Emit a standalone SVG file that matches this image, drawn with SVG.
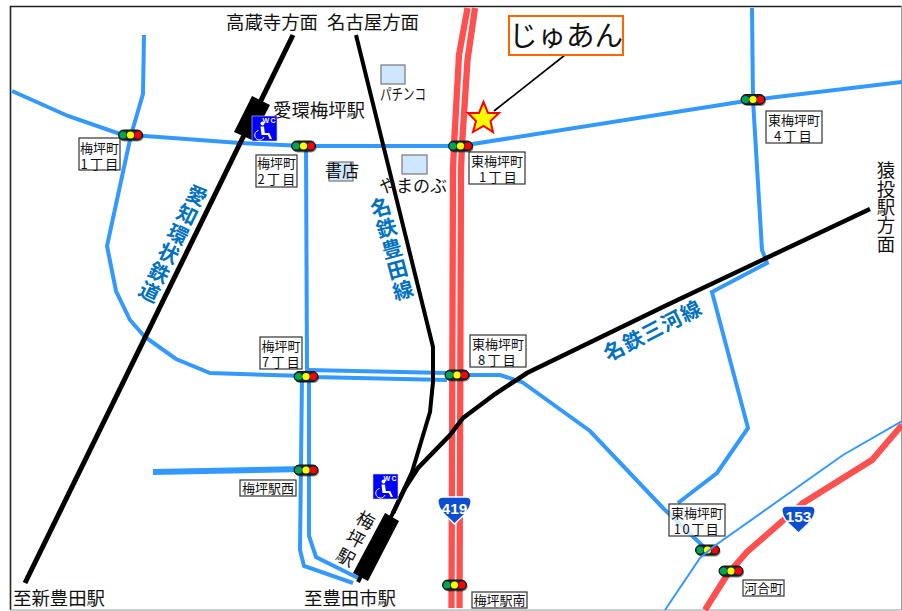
<svg xmlns="http://www.w3.org/2000/svg" xmlns:xlink="http://www.w3.org/1999/xlink" width="902" height="611" viewBox="0 0 902 611">
<style>
text{font-family:"Noto Sans CJK JP","Noto Sans",sans-serif;fill:#111}
.road,.thin,.red,.rail,.lead{fill:none;stroke-linejoin:miter}
.road{stroke:#3399ff;stroke-width:4}
.thin{stroke:#3399ff;stroke-width:2}
.red{stroke:#ff5050;stroke-width:6.300px}
.rail{stroke:#000;stroke-width:4.500px}
.lead{stroke:#000;stroke-width:1.6}
.box{fill:#fff;stroke:#333;stroke-width:1.2}
.lab{font-size:13px;text-anchor:middle}
.wide{letter-spacing:2.200px}
.big{font-size:18.400px}
.blue{font-size:20.500px;font-weight:700;fill:#0070c0;text-anchor:middle;letter-spacing:1px}
.vert{writing-mode:vertical-rl}
.sq{fill:#cfe6ff;stroke:#777;stroke-width:1.2}
.wc{fill:#0000ff;stroke:#cde;stroke-width:.6}
.wct{font-family:"Liberation Sans",sans-serif;font-size:7px;font-weight:700;fill:#fff;letter-spacing:1.500px}
.shield{fill:#0b4fd0;stroke:#fff;stroke-width:1.5}
.snum{font-family:"Liberation Sans",sans-serif;font-size:15.500px;font-weight:700;fill:#fff;text-anchor:middle}
.sb{fill:#1a2a3a;stroke:#111;stroke-width:1}
.g{fill:#00a550}.y{fill:#ffff00}.r{fill:#ff0000}
</style>
<defs>
<g id="sig">
<rect x="-11" y="-3.500" width="24" height="10" rx="5" fill="#000" opacity=".45"/>
<rect x="-12" y="-5" width="24" height="10" rx="5" class="sb"/>
<circle cx="-7.500" r="3.600" class="g"/><circle r="3.600" class="y"/><circle cx="7.500" r="3.600" class="r"/>
</g>
<g id="wcicon">
<rect width="25" height="25" class="wc"/>
<text x="10.500" y="7" class="wct">WC</text>
<circle cx="10.500" cy="7.500" r="2" fill="#fff"/>
<path d="M8.500 10.500h3.500l.8 6.500h4.500l2.700 6h-2.300l-1.900-4h-6.300z" fill="#fff"/>
<path d="M6.500 14.500a4.800 4.800 0 1 0 5.500 6.500" fill="none" stroke="#fff" stroke-width="1"/>
</g>
</defs>
<rect width="902" height="611" fill="#fff"/>
<path d="M10.500 610V6.500H901.500" fill="none" stroke="#222" stroke-width="1.600"/>
<path d="M10 610H901.500V6.500" fill="none" stroke="#999" stroke-width="1"/>

<g id="connectors">
<path class="road" d="M12 91L68 116L120 134L145 136L240 143L305 146L460 146L752 100L902 82"/>
<path class="road" d="M144 35L143 94L131 135L107 246L116 291L130 320L145 337L176 359L210 373L305 376L313 377L447 380"/>
<path class="road" d="M308 370L447 373"/>
<path class="road" d="M463 375H500L522 382L590 431L663 508L705 548"/>
<path class="road" d="M306 146L307 372"/>
<path class="road" d="M302 377L300 550L304 566L353 583"/>
<path class="road" d="M309 377V536L316 557L358 578"/>
<path class="road" style="stroke-width:6" d="M153 472L305 469"/>
<path class="road" d="M752 8L753 100L762 250L767 263L712 292L748 428L717 473L678 503"/>
<path class="red" d="M902 425L872 460L803 503L747 552L727 575L705 610"/>
<path class="red" d="M467.500 8L459 55L454 145L453 170L451.500 608"/>
<path class="red" d="M475 8L467.500 60L462 145L461 170L459.500 608"/>
<path class="rail" style="stroke-width:5" d="M293 35L25 583"/>
<path class="rail" style="stroke-width:4" d="M356 35L433 347V382L430 412L412 472L393 513L358 582"/>
<path class="rail" d="M870 209L667 305L527 373L495 394L463 418L450 435L418 468L405 488L393 513"/>
<path class="lead" d="M565 55L494 111"/>
</g>

<g id="aikan-station"><path d="M252 96L270 105L252 140L234 132Z"/><text x="273" y="117" class="big">愛環梅坪駅</text></g>
<g id="umetsubo-station"><path d="M385 513L399 521L368 581L353 573Z"/><text class="vert" style="font-size:18px;text-anchor:middle;letter-spacing:3px" transform="translate(355,540) rotate(28)">梅坪駅</text></g>
<g id="wc1"><use xlink:href="#wcicon" href="#wcicon" x="252" y="116"/></g>
<g id="wc2"><use xlink:href="#wcicon" href="#wcicon" x="373" y="474"/></g>

<g id="pachinko"><rect x="381" y="65" width="24" height="19" class="sq"/><text x="380" y="100" font-size="16" textLength="46" lengthAdjust="spacingAndGlyphs">パチンコ</text></g>
<g id="yamanobu"><rect x="402" y="155" width="25" height="19" class="sq"/><text x="379" y="192" font-size="17">やまのぶ</text></g>
<g id="shoten"><rect x="329" y="162" width="24" height="19" class="sq"/><text x="325" y="177" font-size="17">書店</text></g>

<g id="juan"><rect x="509" y="16" width="114" height="39" fill="#fff" stroke="#ff6600" stroke-width="2"/><text x="509" y="46" font-size="28.500">じゅあん</text></g>
<g id="star"><path d="M483.500 102L488 113H499L490.500 121L493 132L483.500 126L473 132L476 121L468 113H479Z" fill="#ffff00" stroke="#ff0000" stroke-width="2"/></g>

<g id="dir-takakura"><text x="226" y="29" class="big">高蔵寺方面</text></g>
<g id="dir-nagoya"><text x="327" y="29" class="big">名古屋方面</text></g>
<g id="dir-shintoyota"><text x="13" y="605" class="big">至新豊田駅</text></g>
<g id="dir-toyotashi"><text x="304" y="605" class="big">至豊田市駅</text></g>
<g id="dir-sanage"><text class="big vert" x="886" y="161">猿投駅方面</text></g>

<g id="line-aichi"><text class="blue vert" transform="translate(173,244) rotate(26)">愛知環状鉄道</text></g>
<g id="line-toyota"><text class="blue vert" transform="translate(392,249) rotate(-15)">名鉄豊田線</text></g>
<g id="line-mikawa"><text class="blue" x="0" y="7" transform="translate(653,331) rotate(-27)">名鉄三河線</text></g>

<g id="s-ume1"><rect x="79" y="138" width="41" height="32" class="box"/><text class="lab" y="153"><tspan x="99.500">梅坪町</tspan><tspan x="100.500" dy="16" class="wide">1丁目</tspan></text><use xlink:href="#sig" href="#sig" x="130.500" y="135"/></g>
<g id="s-ume2"><rect x="256" y="155" width="41" height="32" class="box"/><text class="lab" y="168"><tspan x="276.500">梅坪町</tspan><tspan x="277.500" dy="16" class="wide">2丁目</tspan></text><use xlink:href="#sig" href="#sig" x="303.500" y="146"/></g>
<g id="s-hig1"><rect x="469" y="152" width="56" height="32" class="box"/><text class="lab" y="166"><tspan x="497">東梅坪町</tspan><tspan x="499" dy="16" class="wide">1丁目</tspan></text><use xlink:href="#sig" href="#sig" x="460.500" y="146"/></g>
<g id="s-hig4"><rect x="766" y="111" width="56" height="32" class="box"/><text class="lab" y="125"><tspan x="794">東梅坪町</tspan><tspan x="794" dy="16" class="wide">4丁目</tspan></text><use xlink:href="#sig" href="#sig" x="753" y="99.500"/></g>
<g id="s-ume7"><rect x="260" y="337" width="42" height="32" class="box"/><text class="lab" y="351"><tspan x="281">梅坪町</tspan><tspan x="282" dy="16" class="wide">7丁目</tspan></text><use xlink:href="#sig" href="#sig" x="306" y="376.500"/></g>
<g id="s-hig8"><rect x="470" y="335" width="56" height="32" class="box"/><text class="lab" y="349"><tspan x="498">東梅坪町</tspan><tspan x="498" dy="16" class="wide">8丁目</tspan></text><use xlink:href="#sig" href="#sig" x="457" y="375"/></g>
<g id="s-nishi"><rect x="240" y="480" width="56" height="16" class="box"/><text class="lab" x="268" y="493">梅坪駅西</text><use xlink:href="#sig" href="#sig" x="306" y="470"/></g>
<g id="s-hig10"><use xlink:href="#sig" href="#sig" x="707.500" y="550"/><rect x="669" y="504" width="56" height="32" class="box" style="fill-opacity:.8"/><text class="lab" y="518"><tspan x="697">東梅坪町</tspan><tspan x="697" dy="16" style="letter-spacing:1.500px">10丁目</tspan></text></g>
<g id="s-kawai"><rect x="743" y="580" width="41" height="16" class="box"/><text class="lab" x="763.500" y="593">河合町</text><use xlink:href="#sig" href="#sig" x="731" y="571"/></g>
<g id="s-minami"><rect x="472" y="592" width="55" height="16" class="box"/><text class="lab" x="499.500" y="605">梅坪駅南</text><use xlink:href="#sig" href="#sig" x="454.500" y="585"/></g>

<path class="thin" id="thin-road" d="M902 421L843 455L713 547L700 558L665 610"/>

<g id="r419"><path class="shield" d="M443 497H466Q472 497 471 503Q470 509 464 515L454.500 524L445 515Q439 509 438 503Q437 497 443 497Z"/><text class="snum" x="454.500" y="513.500">419</text></g>
<g id="r153"><path class="shield" d="M787 506H810Q816 506 815 512Q814 518 808 524L798.500 533L789 524Q783 518 782 512Q781 506 787 506Z"/><text class="snum" x="798.500" y="522">153</text></g>
</svg>
